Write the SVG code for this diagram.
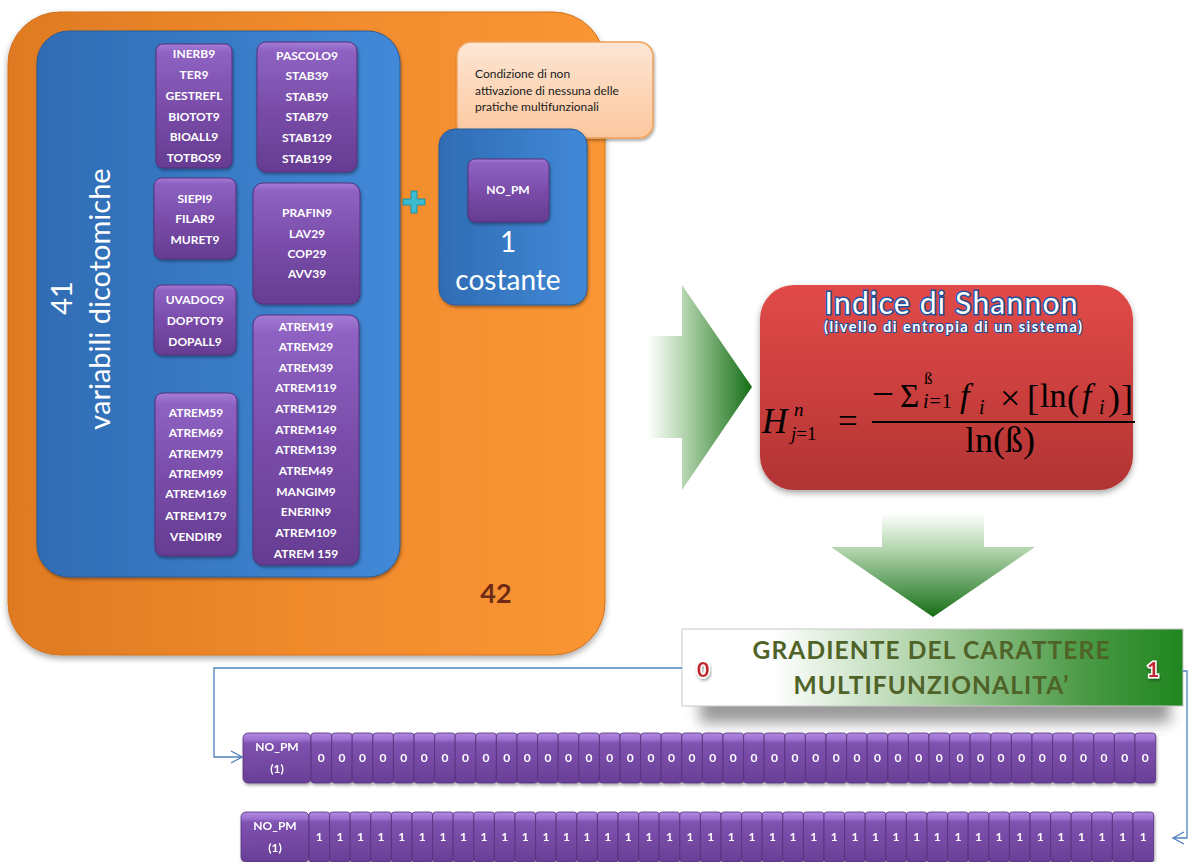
<svg xmlns="http://www.w3.org/2000/svg" xmlns:xlink="http://www.w3.org/1999/xlink" width="1190" height="862" viewBox="0 0 1190 862">
  <defs>
    <linearGradient id="orangeFill" x1="0" y1="0" x2="1" y2="0">
      <stop offset="0" stop-color="#df7a22"/>
      <stop offset="0.5" stop-color="#f08a2c"/>
      <stop offset="1" stop-color="#fb9634"/>
    </linearGradient>
    <linearGradient id="blueFill" x1="0" y1="0" x2="1" y2="0">
      <stop offset="0" stop-color="#2f6cb3"/>
      <stop offset="1" stop-color="#4289d8"/>
    </linearGradient>
    <linearGradient id="purpleFill" x1="0" y1="0" x2="0" y2="1">
      <stop offset="0" stop-color="#a47dd6"/>
      <stop offset="0.07" stop-color="#8e62c2"/>
      <stop offset="0.5" stop-color="#7a4daa"/>
      <stop offset="1" stop-color="#653c91"/>
    </linearGradient>
    <linearGradient id="cellFill" x1="0" y1="0" x2="0" y2="1">
      <stop offset="0" stop-color="#b08ae0"/>
      <stop offset="0.14" stop-color="#9a6fcf"/>
      <stop offset="0.2" stop-color="#7f52b0"/>
      <stop offset="1" stop-color="#693f96"/>
    </linearGradient>
    <linearGradient id="calloutFill" x1="0" y1="0" x2="0" y2="1">
      <stop offset="0" stop-color="#fde6d4"/>
      <stop offset="1" stop-color="#fcc79e"/>
    </linearGradient>
    <linearGradient id="redFill" x1="0" y1="0" x2="0" y2="1">
      <stop offset="0" stop-color="#e04a48"/>
      <stop offset="0.5" stop-color="#cc3f3e"/>
      <stop offset="1" stop-color="#b13433"/>
    </linearGradient>
    <linearGradient id="arrowRight" gradientUnits="userSpaceOnUse" x1="648" y1="0" x2="752" y2="0">
      <stop offset="0" stop-color="#ffffff"/>
      <stop offset="0.35" stop-color="#b3d5ae"/>
      <stop offset="1" stop-color="#156e15"/>
    </linearGradient>
    <linearGradient id="arrowDown" gradientUnits="userSpaceOnUse" x1="0" y1="513" x2="0" y2="617">
      <stop offset="0" stop-color="#ffffff"/>
      <stop offset="0.35" stop-color="#b3d5ae"/>
      <stop offset="1" stop-color="#156e15"/>
    </linearGradient>
    <linearGradient id="scaleFill" x1="0" y1="0" x2="1" y2="0">
      <stop offset="0" stop-color="#ffffff"/>
      <stop offset="0.18" stop-color="#ffffff"/>
      <stop offset="0.5" stop-color="#a9d0a2"/>
      <stop offset="0.8" stop-color="#4b9a46"/>
      <stop offset="1" stop-color="#1f861f"/>
    </linearGradient>
    <filter id="shadow" x="-10%" y="-10%" width="130%" height="130%">
      <feDropShadow dx="1" dy="2" stdDeviation="1.5" flood-color="#000" flood-opacity="0.35"/>
    </filter>
    <filter id="bigShadow" x="-10%" y="-10%" width="130%" height="130%">
      <feDropShadow dx="0" dy="3" stdDeviation="3" flood-color="#000" flood-opacity="0.35"/>
    </filter>
    <filter id="blur8" x="-20%" y="-50%" width="140%" height="200%">
      <feGaussianBlur stdDeviation="7"/>
    </filter>
    <marker id="openArrow" markerUnits="userSpaceOnUse" markerWidth="14" markerHeight="14" viewBox="0 0 14 14" refX="12" refY="7" orient="auto">
      <path d="M1,1 L12,7 L1,13" fill="none" stroke="#4f81bd" stroke-width="1.4"/>
    </marker>
    <rect id="cell" width="20.6" height="50" rx="3" fill="url(#cellFill)" stroke="#55307c" stroke-width="0.8"/>
    <style>
      .pbox { fill: url(#purpleFill); stroke: #55307c; stroke-width: 1; filter: url(#shadow); }
      .pt { font-family: Lato, "Open Sans", sans-serif; font-weight: bold; font-size: 12px; fill: #ffffff; text-anchor: middle; }
      .ct { font-family: Lato, "Open Sans", sans-serif; font-weight: bold; font-size: 12px; fill: #ffffff; text-anchor: middle; }
      .big { font-family: Lato, "Open Sans", sans-serif; fill: #ffffff; text-anchor: middle; }
      .math { font-family: "Liberation Serif", "DejaVu Serif", serif; fill: #000000; }
      .it { font-style: italic; }
      .conn { fill: none; stroke: #4f81bd; stroke-width: 1.3; }
      .mark { font-family: Lato, "Open Sans", sans-serif; font-weight: bold; font-size: 21px; fill: #c0272d; stroke: #ffffff; stroke-width: 3; paint-order: stroke; text-anchor: middle; }
    </style>
  </defs>

  <!-- outer container: 42 variables -->
  <g id="container42">
    <rect x="8" y="12" width="597" height="643" rx="52" fill="url(#orangeFill)" stroke="#d2701c" stroke-width="1" filter="url(#bigShadow)"/>
    <text x="496" y="603" font-family="Lato, 'Open Sans', sans-serif" font-weight="bold" font-size="27" fill="#6e2a14" text-anchor="middle">42</text>
  </g>

  <!-- 41 dichotomous variables -->
  <g id="dicotomiche">
    <rect x="37" y="31" width="363" height="546" rx="32" fill="url(#blueFill)" stroke="#2a5c98" stroke-width="1" filter="url(#shadow)"/>
    <text class="big" font-size="29" transform="translate(72,298) rotate(-90)">41</text>
    <text class="big" font-size="29" transform="translate(110,299) rotate(-90)">variabili dicotomiche</text>
  </g>

  <g id="boxA">
    <rect class="pbox" x="156" y="44" width="76" height="124" rx="7"/>
    <text class="pt" x="194" y="58">INERB9</text>
    <text class="pt" x="194" y="79">TER9</text>
    <text class="pt" x="194" y="99.5">GESTREFL</text>
    <text class="pt" x="194" y="120.5">BIOTOT9</text>
    <text class="pt" x="194" y="140.5">BIOALL9</text>
    <text class="pt" x="194" y="161.5">TOTBOS9</text>
  </g>
  <g id="boxB">
    <rect class="pbox" x="257" y="42" width="100" height="130" rx="9"/>
    <text class="pt" x="307" y="59.5">PASCOLO9</text>
    <text class="pt" x="307" y="79.5">STAB39</text>
    <text class="pt" x="307" y="100.5">STAB59</text>
    <text class="pt" x="307" y="120.5">STAB79</text>
    <text class="pt" x="307" y="141.5">STAB129</text>
    <text class="pt" x="307" y="162.5">STAB199</text>
  </g>
  <g id="boxC">
    <rect class="pbox" x="154" y="178" width="82" height="81" rx="8"/>
    <text class="pt" x="195" y="202.5">SIEPI9</text>
    <text class="pt" x="195" y="222.5">FILAR9</text>
    <text class="pt" x="195" y="243.5">MURET9</text>
  </g>
  <g id="boxD">
    <rect class="pbox" x="253" y="183" width="107" height="121" rx="10"/>
    <text class="pt" x="307" y="216.5">PRAFIN9</text>
    <text class="pt" x="307" y="237.5">LAV29</text>
    <text class="pt" x="307" y="257.5">COP29</text>
    <text class="pt" x="307" y="277.5">AVV39</text>
  </g>
  <g id="boxE">
    <rect class="pbox" x="154" y="285" width="82" height="70" rx="8"/>
    <text class="pt" x="195" y="303.5">UVADOC9</text>
    <text class="pt" x="195" y="324.5">DOPTOT9</text>
    <text class="pt" x="195" y="345.5">DOPALL9</text>
  </g>
  <g id="boxF">
    <rect class="pbox" x="155" y="393" width="82" height="163" rx="8"/>
    <text class="pt" x="196" y="416.5">ATREM59</text>
    <text class="pt" x="196" y="436.5">ATREM69</text>
    <text class="pt" x="196" y="457.5">ATREM79</text>
    <text class="pt" x="196" y="477.5">ATREM99</text>
    <text class="pt" x="196" y="497.5">ATREM169</text>
    <text class="pt" x="196" y="519.5">ATREM179</text>
    <text class="pt" x="196" y="540.5">VENDIR9</text>
  </g>
  <g id="boxG">
    <rect class="pbox" x="253" y="315" width="106" height="250" rx="10"/>
    <text class="pt" x="306" y="330.5">ATREM19</text>
    <text class="pt" x="306" y="350.5">ATREM29</text>
    <text class="pt" x="306" y="371.5">ATREM39</text>
    <text class="pt" x="306" y="391.5">ATREM119</text>
    <text class="pt" x="306" y="412.5">ATREM129</text>
    <text class="pt" x="306" y="433.5">ATREM149</text>
    <text class="pt" x="306" y="453.5">ATREM139</text>
    <text class="pt" x="306" y="474.5">ATREM49</text>
    <text class="pt" x="306" y="495.5">MANGIM9</text>
    <text class="pt" x="306" y="515.5">ENERIN9</text>
    <text class="pt" x="306" y="536.5">ATREM109</text>
    <text class="pt" x="306" y="557.5">ATREM 159</text>
  </g>

  <!-- plus sign between the two groups -->
  <g id="plus">
    <path d="M411,191 h6 v8 h8 v6 h-8 v8 h-6 v-8 h-8 v-6 h8 z" fill="#3dbcd0" stroke="#1d8ea0" stroke-width="1"/>
  </g>

  <!-- callout -->
  <g id="callout">
    <rect x="457" y="42" width="196" height="96" rx="14" fill="url(#calloutFill)" stroke="#f0a05a" stroke-width="1.5" filter="url(#shadow)"/>
    <text font-family="Lato, 'Open Sans', sans-serif" font-size="12" fill="#1a1a1a">
      <tspan x="475" y="78">Condizione di non</tspan>
      <tspan x="475" y="95">attivazione di nessuna delle</tspan>
      <tspan x="475" y="111">pratiche multifunzionali</tspan>
    </text>
  </g>

  <!-- constant -->
  <g id="costante">
    <rect x="439" y="129" width="148" height="176" rx="16" fill="url(#blueFill)" stroke="#2a5c98" stroke-width="1" filter="url(#shadow)"/>
    <rect class="pbox" x="468" y="159" width="81" height="63" rx="7"/>
    <text class="pt" x="508" y="194">NO_PM</text>
    <text class="big" font-size="28" x="508" y="252">1</text>
    <text class="big" font-size="28" x="508" y="290">costante</text>
  </g>

  <!-- arrow towards the index -->
  <g id="arrowToIndex">
    <polygon points="648,336 682,336 682,285 752,387 682,490 682,438 648,438" fill="url(#arrowRight)"/>
  </g>

  <!-- Shannon index -->
  <g id="shannon">
    <rect x="760" y="285" width="373" height="205" rx="34" fill="url(#redFill)" filter="url(#bigShadow)"/>
    <text x="951" y="314" font-family="Lato, 'Open Sans', sans-serif" font-size="30" fill="#ffffff" stroke="#1c4f9e" stroke-width="3" paint-order="stroke" text-anchor="middle" textLength="253">Indice di Shannon</text>
    <text x="953" y="332" font-family="Lato, 'Open Sans', sans-serif" font-weight="bold" font-size="14.5" fill="#ffffff" stroke="#1c4f9e" stroke-width="2" paint-order="stroke" text-anchor="middle" textLength="258">(livello di entropia di un sistema)</text>
    <!-- H^n_{j=1} = ( -Σ^ß_{i=1} f_i × [ln(f_i)] ) / ln(ß) -->
    <text class="math it" x="762" y="433" font-size="35">H</text>
    <text class="math it" x="794" y="416" font-size="19">n</text>
    <text class="math" x="791" y="440" font-size="19"><tspan class="it">j</tspan>=1</text>
    <text class="math" x="838" y="433" font-size="35">=</text>
    <line x1="872" y1="422" x2="1135" y2="422" stroke="#000" stroke-width="2"/>
    <text class="math" x="872" y="407" font-size="39">−</text>
    <text class="math" x="900" y="407" font-size="33">Σ</text>
    <text class="math" x="924" y="384" font-size="17">ß</text>
    <text class="math" x="923" y="408" font-size="20" letter-spacing="1"><tspan class="it">i</tspan>=1</text>
    <text class="math it" x="960" y="407" font-size="34">f</text>
    <text class="math it" x="979" y="414" font-size="20">i</text>
    <text class="math" x="1000" y="410" font-size="36">×</text>
    <text class="math" x="1027" y="410" font-size="36">[</text>
    <text class="math" x="1040" y="407" font-size="34">ln</text>
    <text class="math" x="1067" y="410" font-size="36">(</text>
    <text class="math it" x="1082" y="407" font-size="34">f</text>
    <text class="math it" x="1099" y="414" font-size="20">i</text>
    <text class="math" x="1108" y="410" font-size="36">)</text>
    <text class="math" x="1121" y="410" font-size="36">]</text>
    <text class="math" x="965" y="452" font-size="36">ln(ß)</text>
  </g>

  <!-- arrow towards the gradient scale -->
  <g id="arrowToScale">
    <polygon points="882,513 984,513 984,547 1035,547 933,617 831,547 882,547" fill="url(#arrowDown)"/>
  </g>

  <!-- multifunctionality gradient -->
  <g id="scale">
    <rect x="700" y="668" width="470" height="55" fill="#4a4a4a" opacity="0.55" filter="url(#blur8)"/>
    <rect x="682" y="629" width="501" height="77" fill="url(#scaleFill)" stroke="#c8c8c8" stroke-width="1"/>
    <text x="931" y="659" font-family="Lato, 'Open Sans', sans-serif" font-weight="bold" font-size="24.5" fill="#4f6228" text-anchor="middle" textLength="357">GRADIENTE DEL CARATTERE</text>
    <text x="931" y="694" font-family="Lato, 'Open Sans', sans-serif" font-weight="bold" font-size="24.5" fill="#4f6228" text-anchor="middle" textLength="275">MULTIFUNZIONALITA’</text>
    <text class="mark" x="703" y="677" filter="url(#shadow)">0</text>
    <text class="mark" x="1153" y="677" filter="url(#shadow)">1</text>
  </g>

  <!-- connectors -->
  <g id="connectors">
    <path class="conn" d="M682,668 H214 V757 H242" marker-end="url(#openArrow)"/>
    <path class="conn" d="M1183,671 H1187 V838 H1173" marker-end="url(#openArrow)"/>
  </g>

  <!-- row with all practices off -->
  <g id="rowZero" filter="url(#shadow)">
    <rect x="243" y="733" width="68" height="50" rx="5" fill="url(#cellFill)" stroke="#55307c" stroke-width="0.8"/>
    <text class="ct" x="277" y="751">NO_PM</text>
    <text class="ct" x="277" y="773">(1)</text>
    <use xlink:href="#cell" x="311" y="733"/><use xlink:href="#cell" x="331.6" y="733"/><use xlink:href="#cell" x="352.2" y="733"/><use xlink:href="#cell" x="372.8" y="733"/><use xlink:href="#cell" x="393.4" y="733"/><use xlink:href="#cell" x="414" y="733"/><use xlink:href="#cell" x="434.6" y="733"/><use xlink:href="#cell" x="455.2" y="733"/><use xlink:href="#cell" x="475.8" y="733"/><use xlink:href="#cell" x="496.4" y="733"/><use xlink:href="#cell" x="517" y="733"/><use xlink:href="#cell" x="537.6" y="733"/><use xlink:href="#cell" x="558.2" y="733"/><use xlink:href="#cell" x="578.8" y="733"/><use xlink:href="#cell" x="599.4" y="733"/><use xlink:href="#cell" x="620" y="733"/><use xlink:href="#cell" x="640.6" y="733"/><use xlink:href="#cell" x="661.2" y="733"/><use xlink:href="#cell" x="681.8" y="733"/><use xlink:href="#cell" x="702.4" y="733"/><use xlink:href="#cell" x="723" y="733"/><use xlink:href="#cell" x="743.6" y="733"/><use xlink:href="#cell" x="764.2" y="733"/><use xlink:href="#cell" x="784.8" y="733"/><use xlink:href="#cell" x="805.4" y="733"/><use xlink:href="#cell" x="826" y="733"/><use xlink:href="#cell" x="846.6" y="733"/><use xlink:href="#cell" x="867.2" y="733"/><use xlink:href="#cell" x="887.8" y="733"/><use xlink:href="#cell" x="908.4" y="733"/><use xlink:href="#cell" x="929" y="733"/><use xlink:href="#cell" x="949.6" y="733"/><use xlink:href="#cell" x="970.2" y="733"/><use xlink:href="#cell" x="990.8" y="733"/><use xlink:href="#cell" x="1011.4" y="733"/><use xlink:href="#cell" x="1032" y="733"/><use xlink:href="#cell" x="1052.6" y="733"/><use xlink:href="#cell" x="1073.2" y="733"/><use xlink:href="#cell" x="1093.8" y="733"/><use xlink:href="#cell" x="1114.4" y="733"/><use xlink:href="#cell" x="1135" y="733"/>
    <text class="ct" x="321.3" y="762">0</text><text class="ct" x="341.9" y="762">0</text><text class="ct" x="362.5" y="762">0</text><text class="ct" x="383.1" y="762">0</text><text class="ct" x="403.7" y="762">0</text><text class="ct" x="424.3" y="762">0</text><text class="ct" x="444.9" y="762">0</text><text class="ct" x="465.5" y="762">0</text><text class="ct" x="486.1" y="762">0</text><text class="ct" x="506.7" y="762">0</text><text class="ct" x="527.3" y="762">0</text><text class="ct" x="547.9" y="762">0</text><text class="ct" x="568.5" y="762">0</text><text class="ct" x="589.1" y="762">0</text><text class="ct" x="609.7" y="762">0</text><text class="ct" x="630.3" y="762">0</text><text class="ct" x="650.9" y="762">0</text><text class="ct" x="671.5" y="762">0</text><text class="ct" x="692.1" y="762">0</text><text class="ct" x="712.7" y="762">0</text><text class="ct" x="733.3" y="762">0</text><text class="ct" x="753.9" y="762">0</text><text class="ct" x="774.5" y="762">0</text><text class="ct" x="795.1" y="762">0</text><text class="ct" x="815.7" y="762">0</text><text class="ct" x="836.3" y="762">0</text><text class="ct" x="856.9" y="762">0</text><text class="ct" x="877.5" y="762">0</text><text class="ct" x="898.1" y="762">0</text><text class="ct" x="918.7" y="762">0</text><text class="ct" x="939.3" y="762">0</text><text class="ct" x="959.9" y="762">0</text><text class="ct" x="980.5" y="762">0</text><text class="ct" x="1001.1" y="762">0</text><text class="ct" x="1021.7" y="762">0</text><text class="ct" x="1042.3" y="762">0</text><text class="ct" x="1062.9" y="762">0</text><text class="ct" x="1083.5" y="762">0</text><text class="ct" x="1104.1" y="762">0</text><text class="ct" x="1124.7" y="762">0</text><text class="ct" x="1145.3" y="762">0</text>
  </g>

  <!-- row with all practices on -->
  <g id="rowOne" filter="url(#shadow)" transform="translate(-2,79)">
    <rect x="243" y="733" width="68" height="50" rx="5" fill="url(#cellFill)" stroke="#55307c" stroke-width="0.8"/>
    <text class="ct" x="277" y="751">NO_PM</text>
    <text class="ct" x="277" y="773">(1)</text>
    <use xlink:href="#cell" x="311" y="733"/><use xlink:href="#cell" x="331.6" y="733"/><use xlink:href="#cell" x="352.2" y="733"/><use xlink:href="#cell" x="372.8" y="733"/><use xlink:href="#cell" x="393.4" y="733"/><use xlink:href="#cell" x="414" y="733"/><use xlink:href="#cell" x="434.6" y="733"/><use xlink:href="#cell" x="455.2" y="733"/><use xlink:href="#cell" x="475.8" y="733"/><use xlink:href="#cell" x="496.4" y="733"/><use xlink:href="#cell" x="517" y="733"/><use xlink:href="#cell" x="537.6" y="733"/><use xlink:href="#cell" x="558.2" y="733"/><use xlink:href="#cell" x="578.8" y="733"/><use xlink:href="#cell" x="599.4" y="733"/><use xlink:href="#cell" x="620" y="733"/><use xlink:href="#cell" x="640.6" y="733"/><use xlink:href="#cell" x="661.2" y="733"/><use xlink:href="#cell" x="681.8" y="733"/><use xlink:href="#cell" x="702.4" y="733"/><use xlink:href="#cell" x="723" y="733"/><use xlink:href="#cell" x="743.6" y="733"/><use xlink:href="#cell" x="764.2" y="733"/><use xlink:href="#cell" x="784.8" y="733"/><use xlink:href="#cell" x="805.4" y="733"/><use xlink:href="#cell" x="826" y="733"/><use xlink:href="#cell" x="846.6" y="733"/><use xlink:href="#cell" x="867.2" y="733"/><use xlink:href="#cell" x="887.8" y="733"/><use xlink:href="#cell" x="908.4" y="733"/><use xlink:href="#cell" x="929" y="733"/><use xlink:href="#cell" x="949.6" y="733"/><use xlink:href="#cell" x="970.2" y="733"/><use xlink:href="#cell" x="990.8" y="733"/><use xlink:href="#cell" x="1011.4" y="733"/><use xlink:href="#cell" x="1032" y="733"/><use xlink:href="#cell" x="1052.6" y="733"/><use xlink:href="#cell" x="1073.2" y="733"/><use xlink:href="#cell" x="1093.8" y="733"/><use xlink:href="#cell" x="1114.4" y="733"/><use xlink:href="#cell" x="1135" y="733"/>
    <text class="ct" x="321.3" y="762">1</text><text class="ct" x="341.9" y="762">1</text><text class="ct" x="362.5" y="762">1</text><text class="ct" x="383.1" y="762">1</text><text class="ct" x="403.7" y="762">1</text><text class="ct" x="424.3" y="762">1</text><text class="ct" x="444.9" y="762">1</text><text class="ct" x="465.5" y="762">1</text><text class="ct" x="486.1" y="762">1</text><text class="ct" x="506.7" y="762">1</text><text class="ct" x="527.3" y="762">1</text><text class="ct" x="547.9" y="762">1</text><text class="ct" x="568.5" y="762">1</text><text class="ct" x="589.1" y="762">1</text><text class="ct" x="609.7" y="762">1</text><text class="ct" x="630.3" y="762">1</text><text class="ct" x="650.9" y="762">1</text><text class="ct" x="671.5" y="762">1</text><text class="ct" x="692.1" y="762">1</text><text class="ct" x="712.7" y="762">1</text><text class="ct" x="733.3" y="762">1</text><text class="ct" x="753.9" y="762">1</text><text class="ct" x="774.5" y="762">1</text><text class="ct" x="795.1" y="762">1</text><text class="ct" x="815.7" y="762">1</text><text class="ct" x="836.3" y="762">1</text><text class="ct" x="856.9" y="762">1</text><text class="ct" x="877.5" y="762">1</text><text class="ct" x="898.1" y="762">1</text><text class="ct" x="918.7" y="762">1</text><text class="ct" x="939.3" y="762">1</text><text class="ct" x="959.9" y="762">1</text><text class="ct" x="980.5" y="762">1</text><text class="ct" x="1001.1" y="762">1</text><text class="ct" x="1021.7" y="762">1</text><text class="ct" x="1042.3" y="762">1</text><text class="ct" x="1062.9" y="762">1</text><text class="ct" x="1083.5" y="762">1</text><text class="ct" x="1104.1" y="762">1</text><text class="ct" x="1124.7" y="762">1</text><text class="ct" x="1145.3" y="762">1</text>
  </g>
</svg>
